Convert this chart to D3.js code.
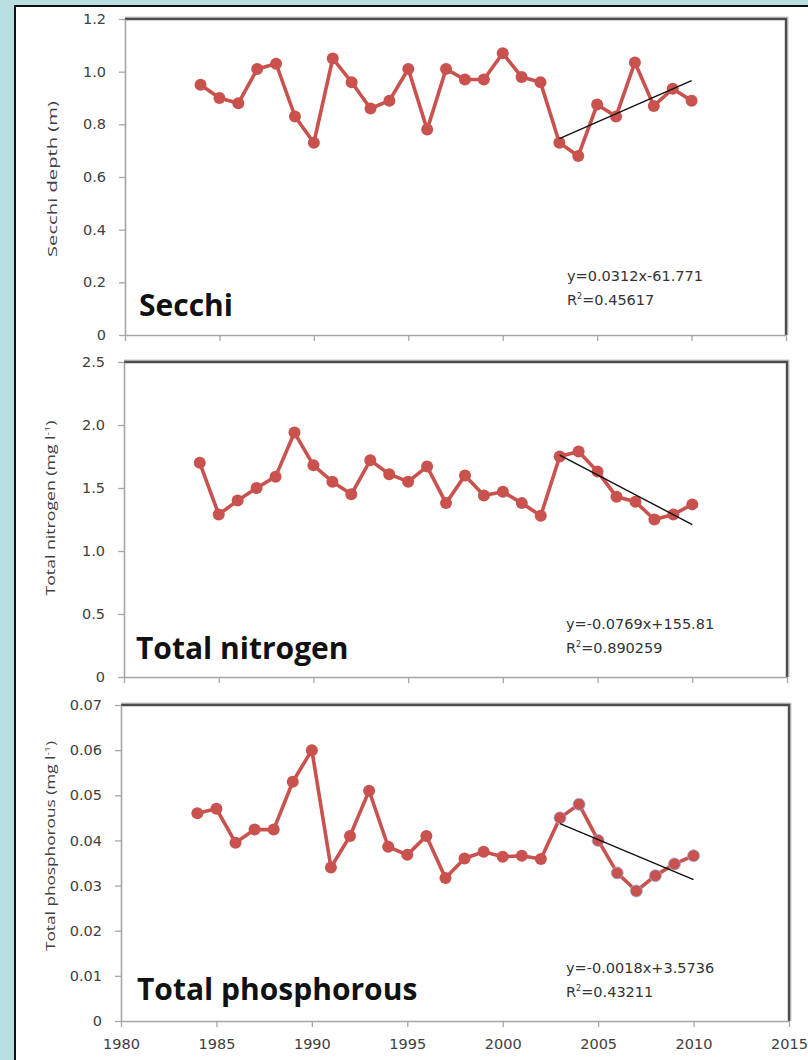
<!DOCTYPE html>
<html>
<head>
<meta charset="utf-8">
<script src="https://cdn.jsdelivr.net/npm/d3@7"></script>
<style>
  body { margin: 0; background: #b9dfe3; }
  svg { display: block; }
  text { font-family: 'DejaVu Sans', sans-serif; }
</style>
</head>
<body>
<div id="chart"></div>
<script>
// Years sampled (same for all three series)
const years = [1984, 1985, 1986, 1987, 1988, 1989, 1990, 1991, 1992, 1993, 1994, 1995, 1996, 1997,
               1998, 1999, 2000, 2001, 2002, 2003, 2004, 2005, 2006, 2007, 2008, 2009, 2010];

// Secchi depth (m)
const secchiDepth = [0.95, 0.90, 0.88, 1.01, 1.03, 0.83, 0.73, 1.05, 0.96, 0.86, 0.89, 1.01, 0.78, 1.01,
                     0.97, 0.97, 1.07, 0.98, 0.96, 0.73, 0.68, 0.875, 0.83, 1.035, 0.87, 0.935, 0.89];

// Total nitrogen (mg l-1)
const totalNitrogen = [1.70, 1.29, 1.40, 1.50, 1.59, 1.94, 1.68, 1.55, 1.45, 1.72, 1.61, 1.55, 1.67, 1.38,
                       1.60, 1.44, 1.47, 1.38, 1.28, 1.75, 1.79, 1.63, 1.43, 1.39, 1.25, 1.29, 1.37];

// Total phosphorous (mg l-1)
const totalPhosphorous = [0.046, 0.047, 0.0395, 0.0424, 0.0424, 0.053, 0.060, 0.034, 0.041, 0.051, 0.0386, 0.0368, 0.041, 0.0317,
                          0.036, 0.0375, 0.0364, 0.0366, 0.0359, 0.045, 0.048, 0.040, 0.0328, 0.0288, 0.0322, 0.0348, 0.0366];

// Trend line end points [year, value] (2003-2010 fits)
const secchiTrend = [[2003, 0.746], [2010, 0.966]];
const nitrogenTrend = [[2003, 1.76], [2010, 1.21]];
const phosphorousTrend = [[2003, 0.0437], [2010, 0.0313]];

// Fit equations
const secchiEq = ["y=0.0312x-61.771", "0.45617"];
const nitrogenEq = ["y=-0.0769x+155.81", "0.890259"];
const phosphorousEq = ["y=-0.0018x+3.5736", "0.43211"];

// Axis ticks
const xTicks = [1980, 1985, 1990, 1995, 2000, 2005, 2010, 2015];
const secchiTicks = [0, 0.2, 0.4, 0.6, 0.8, 1.0, 1.2];
const nitrogenTicks = [0, 0.5, 1.0, 1.5, 2.0, 2.5];
const phosphorousTicks = [0, 0.01, 0.02, 0.03, 0.04, 0.05, 0.06, 0.07];

const lineColor = "#c9524e";

const panels = [
  {
    title: "Secchi", values: secchiDepth, trend: secchiTrend, eq: secchiEq,
    ticks: secchiTicks, fmt: d => d === 0 ? "0" : d3.format(".1f")(d),
    label: ["Secchi depth (m)"],
    left: 125, right: 786, top: 19, bottom: 335,
    titleX: 139, titleY: 316, eqX: 567, eqY: [281, 305],
    labelX: 52, labelY: 179, labelLen: 156, xLabels: false, halo: false
  },
  {
    title: "Total nitrogen", values: totalNitrogen, trend: nitrogenTrend, eq: nitrogenEq,
    ticks: nitrogenTicks, fmt: d => d === 0 ? "0" : d3.format(".1f")(d),
    label: ["Total nitrogen (mg l", "-1", ")"],
    left: 124, right: 787, top: 362, bottom: 677,
    titleX: 136, titleY: 659, eqX: 566, eqY: [629, 653],
    labelX: 50, labelY: 508, labelLen: 175, xLabels: false, halo: false
  },
  {
    title: "Total phosphorous", values: totalPhosphorous, trend: phosphorousTrend, eq: phosphorousEq,
    ticks: phosphorousTicks, fmt: d => d === 0 ? "0" : d3.format(".2f")(d),
    label: ["Total phosphorous (mg l", "-1", ")"],
    left: 121, right: 789, top: 705, bottom: 1021,
    titleX: 137, titleY: 1000, eqX: 566, eqY: [973, 997],
    labelX: 50, labelY: 846, labelLen: 210, xLabels: true, halo: true
  }
];

const svg = d3.select("#chart").append("svg")
  .attr("width", 808)
  .attr("height", 1060);

// Background and white sheet
svg.append("rect").attr("width", 808).attr("height", 1060).attr("fill", "#b9dfe3");
svg.append("rect").attr("x", 15).attr("y", 6).attr("width", 793).attr("height", 1054).attr("fill", "#fff");
svg.append("line").attr("x1", 14).attr("x2", 808).attr("y1", 6).attr("y2", 6)
  .attr("stroke", "#111").attr("stroke-width", 2);
svg.append("line").attr("x1", 15).attr("x2", 15).attr("y1", 5).attr("y2", 1060)
  .attr("stroke", "#111").attr("stroke-width", 2);

panels.forEach(p => {
  const g = svg.append("g");
  const data = years.map((yr, i) => ({ year: yr, value: p.values[i] }));

  const x = d3.scaleLinear().domain([1980, 2015]).range([p.left, p.right]);
  const y = d3.scaleLinear().domain([0, d3.max(p.ticks)]).range([p.bottom, p.top]);

  // top / right frame of plot area
  g.append("path")
    .attr("d", `M${p.left},${p.top - 1.5}H${p.right + 1.5}V${p.bottom}`)
    .attr("fill", "none").attr("stroke", "#c8c8c8").attr("stroke-width", 2);
  g.append("path")
    .attr("d", `M${p.left},${p.top}H${p.right}V${p.bottom}`)
    .attr("fill", "none").attr("stroke", "#4d4d4d").attr("stroke-width", 2.4);

  // y axis
  const yAxis = g.append("g")
    .attr("transform", `translate(${p.left},0)`)
    .call(d3.axisLeft(y).tickValues(p.ticks).tickFormat(p.fmt).tickSize(6).tickSizeOuter(0).tickPadding(13));

  // x axis
  const xAxis = g.append("g")
    .attr("transform", `translate(0,${p.bottom})`)
    .call(d3.axisBottom(x).tickValues(xTicks).tickSize(6).tickSizeOuter(0).tickPadding(12)
      .tickFormat(p.xLabels ? d3.format("d") : ""));

  [yAxis, xAxis].forEach(a => {
    a.select(".domain").attr("stroke", "#a6a6a6").attr("stroke-width", 1.6);
    a.selectAll(".tick line").attr("stroke", "#a6a6a6").attr("stroke-width", 1.3);
    a.selectAll(".tick text")
      .attr("fill", "#404040")
      .style("font-size", "14.5px")
      .style("font-family", "'DejaVu Sans', sans-serif");
  });

  // data line
  g.append("path")
    .datum(data)
    .attr("fill", "none")
    .attr("stroke", lineColor)
    .attr("stroke-width", 3.6)
    .attr("stroke-linejoin", "round")
    .attr("d", d3.line().x(d => x(d.year)).y(d => y(d.value)));

  g.selectAll(".pt")
    .data(data)
    .enter()
    .append("circle")
    .attr("class", "pt")
    .attr("cx", d => x(d.year))
    .attr("cy", d => y(d.value))
    .attr("r", 6)
    .attr("fill", lineColor)
    .attr("stroke", d => p.halo && d.year >= p.trend[0][0] ? "#9aaee0" : "none")
    .attr("stroke-width", 1)
    .attr("stroke-opacity", 0.8);

  // trend line
  g.append("line")
    .attr("x1", x(p.trend[0][0])).attr("y1", y(p.trend[0][1]))
    .attr("x2", x(p.trend[1][0])).attr("y2", y(p.trend[1][1]))
    .attr("stroke", "#111")
    .attr("stroke-width", 1.4);

  // big title
  g.append("text")
    .attr("x", p.titleX).attr("y", p.titleY)
    .attr("fill", "#111")
    .style("font-family", "'Open Sans', sans-serif")
    .style("font-size", "30px")
    .style("font-weight", "bold")
    .text(p.title);

  // equation
  g.append("text")
    .attr("x", p.eqX).attr("y", p.eqY[0])
    .attr("fill", "#333")
    .style("font-size", "14.5px")
    .text(p.eq[0]);
  const r2 = g.append("text")
    .attr("x", p.eqX).attr("y", p.eqY[1])
    .attr("fill", "#333")
    .style("font-size", "14.5px");
  r2.append("tspan").text("R");
  r2.append("tspan").attr("dy", -6).style("font-size", "8px").text("2");
  r2.append("tspan").attr("dy", 6).text("=" + p.eq[1]);

  // y-axis title
  const lab = g.append("text")
    .attr("transform", `translate(${p.labelX},${p.labelY}) rotate(-90)`)
    .attr("text-anchor", "middle")
    .attr("dy", "0.35em")
    .attr("fill", "#404040")
    .attr("textLength", p.labelLen)
    .attr("lengthAdjust", "spacingAndGlyphs")
    .style("font-family", "'Open Sans', sans-serif")
    .style("font-size", "13px");
  lab.append("tspan").text(p.label[0]);
  if (p.label.length > 1) {
    lab.append("tspan").attr("dy", -5).style("font-size", "8px").text(p.label[1]);
    lab.append("tspan").attr("dy", 5).text(p.label[2]);
  }
});
</script>
</body>
</html>
